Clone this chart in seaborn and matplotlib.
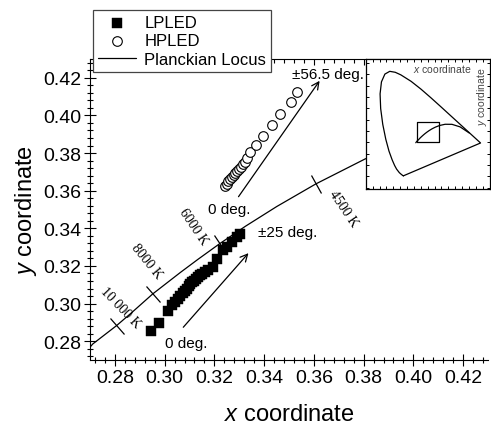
import numpy as np
import matplotlib.pyplot as plt
import seaborn as sns
from matplotlib.markers import MarkerStyle
from matplotlib.transforms import Affine2D
from matplotlib.ticker import MultipleLocator

# LPLED chromaticity points (filled squares)
lp_x = [0.2947, 0.2979, 0.3015, 0.3030, 0.3042, 0.3052, 0.3062, 0.3072, 0.3080, 0.3088,
        0.3096, 0.3104, 0.3111, 0.3118, 0.3126, 0.3134, 0.3143, 0.3152, 0.3162, 0.3173,
        0.3194, 0.3210, 0.3234, 0.3250, 0.3270, 0.3289, 0.3305]
lp_y = [0.2853, 0.2895, 0.2962, 0.2990, 0.3008, 0.3025, 0.3040, 0.3055, 0.3068, 0.3080,
        0.3092, 0.3102, 0.3112, 0.3120, 0.3130, 0.3140, 0.3150, 0.3158, 0.3166, 0.3176,
        0.3195, 0.3237, 0.3284, 0.3300, 0.3326, 0.3353, 0.3368]

# HPLED chromaticity points (open circles)
hp_x = [0.3242, 0.3249, 0.3256, 0.3263, 0.3270, 0.3277, 0.3284, 0.3291, 0.3298, 0.3306,
        0.3314, 0.3323, 0.3333, 0.3345, 0.3369, 0.3397, 0.3432, 0.3464, 0.3508, 0.3532]
hp_y = [0.3626, 0.3638, 0.3650, 0.3661, 0.3672, 0.3683, 0.3694, 0.3705, 0.3716, 0.3728,
        0.3740, 0.3755, 0.3774, 0.3808, 0.3842, 0.3889, 0.3947, 0.4005, 0.4074, 0.4126]

# Planckian locus (CIE 1931)
locus_T = [15000, 12000, 10000, 9000, 8000, 7000, 6500, 6000, 5500, 5000, 4500,
           4000, 3500, 3000, 2500, 2000, 1500, 1000]
locus_x = [0.2637, 0.2711, 0.2807, 0.2867, 0.2952, 0.3064, 0.3135, 0.3221, 0.3325,
           0.3451, 0.3608, 0.3805, 0.4053, 0.4369, 0.4770, 0.5267, 0.5857, 0.6528]
locus_y = [0.2671, 0.2785, 0.2883, 0.2951, 0.3051, 0.3166, 0.3236, 0.3318, 0.3411,
           0.3516, 0.3636, 0.3768, 0.3907, 0.4041, 0.4137, 0.4133, 0.3931, 0.3444]

iso_T = [10000, 8000, 6000, 4500]
iso_labels = ['10 000 K', '8000 K', '6000 K', '4500 K']
iso_label_x = [0.2822, 0.2929, 0.3114, 0.3719]
iso_label_y = [0.2979, 0.3229, 0.3410, 0.3505]
iso_label_rot = [-46, -51, -56, -56]

# spectral locus for the inset (CIE 1931)
spec_x = [0.1741, 0.1714, 0.1644, 0.1566, 0.1440, 0.1241, 0.1096, 0.0913, 0.0687, 0.0454,
          0.0235, 0.0082, 0.0039, 0.0139, 0.0389, 0.0743, 0.1142, 0.1547, 0.2296, 0.3016,
          0.3731, 0.4441, 0.5125, 0.5752, 0.6270, 0.6915, 0.7190, 0.7347, 0.1741]
spec_y = [0.0050, 0.0051, 0.0109, 0.0177, 0.0297, 0.0578, 0.0868, 0.1327, 0.2007, 0.2950,
          0.4127, 0.5384, 0.6548, 0.7502, 0.8120, 0.8338, 0.8262, 0.8059, 0.7543, 0.6923,
          0.6245, 0.5547, 0.4866, 0.4242, 0.3725, 0.3083, 0.2809, 0.2653, 0.0050]

# angle sweep annotations
arrow_tail = [(0.3075, 0.2874), (0.3297, 0.3568)]
arrow_head = [(0.3337, 0.3268), (0.3623, 0.4184)]
ann_text = ['0 deg.', '\u00b125 deg.', '0 deg.', '\u00b156.5 deg.']
ann_x = [0.3003, 0.3377, 0.3174, 0.3513]
ann_y = [0.2790, 0.3379, 0.3505, 0.4220]

sns.set_style('ticks')
plt.rcParams['font.family'] = ['Liberation Sans', 'DejaVu Sans']
plt.rcParams['mathtext.fontset'] = 'custom'
plt.rcParams['mathtext.it'] = 'Liberation Sans:italic'
plt.rcParams['mathtext.rm'] = 'Liberation Sans'
plt.rcParams['text.color'] = 'black'
plt.rcParams['axes.labelcolor'] = 'black'
plt.rcParams['xtick.color'] = 'black'
plt.rcParams['ytick.color'] = 'black'
plt.rcParams['axes.edgecolor'] = 'black'

fig = plt.figure(figsize=(4.91, 4.27), dpi=100)
ax = fig.add_axes([0.1833, 0.1546, 0.8106, 0.7049])
ax.set_xlim(0.27, 0.43)
ax.set_ylim(0.27, 0.43)

# Planckian locus
sns.lineplot(x=locus_x, y=locus_y, sort=False, estimator=None, color='black',
             lw=0.9, ax=ax, label='Planckian Locus')

# isotherm ticks perpendicular to the locus
for T, lab, lx, ly, rot in zip(iso_T, iso_labels, iso_label_x, iso_label_y, iso_label_rot):
    i = locus_T.index(T)
    p0 = ax.transData.transform((locus_x[i - 1], locus_y[i - 1]))
    p1 = ax.transData.transform((locus_x[i + 1], locus_y[i + 1]))
    ang = np.degrees(np.arctan2(p1[1] - p0[1], p1[0] - p0[0]))
    m = MarkerStyle('|', transform=Affine2D().rotate_deg(ang))
    ax.plot(locus_x[i], locus_y[i], marker=m, ms=15, mew=0.9, color='black')
    ax.text(lx, ly, lab, rotation=rot, ha='center', va='center', fontsize=10,
            family='Liberation Serif', rotation_mode='anchor')

sns.scatterplot(x=lp_x, y=lp_y, marker='s', s=44, color='black', edgecolor='black',
                linewidth=0.3, ax=ax, label='LPLED', zorder=3)
sns.scatterplot(x=hp_x, y=hp_y, marker='o', s=48, facecolor='white', edgecolor='black',
                linewidth=0.8, ax=ax, label='HPLED', zorder=3)

for t, h in zip(arrow_tail, arrow_head):
    ax.annotate('', xy=h, xytext=t,
                arrowprops=dict(arrowstyle='->', lw=0.9, color='black',
                                mutation_scale=13, shrinkA=0, shrinkB=0))
for t, x, y in zip(ann_text, ann_x, ann_y):
    ax.text(x, y, t, ha='left', va='center', fontsize=11)

# axes styling
for s in ['right', 'top']:
    ax.spines[s].set_visible(False)
for s in ['left', 'bottom']:
    ax.spines[s].set_linewidth(0.8)
ax.xaxis.set_major_locator(MultipleLocator(0.02))
ax.xaxis.set_minor_locator(MultipleLocator(0.004))
ax.yaxis.set_major_locator(MultipleLocator(0.02))
ax.yaxis.set_minor_locator(MultipleLocator(0.004))
ax.tick_params(which='major', direction='inout', length=9, width=0.8, labelsize=14, pad=2)
ax.tick_params(which='minor', direction='inout', length=5, width=0.8)
ax.set_xticks([0.28, 0.30, 0.32, 0.34, 0.36, 0.38, 0.40, 0.42])
ax.set_xticklabels(['0.28', '0.30', '0.32', '0.34', '0.36', '0.38', '0.40', '0.42'])
ax.set_yticks([0.28, 0.30, 0.32, 0.34, 0.36, 0.38, 0.40, 0.42])
ax.set_yticklabels(['0.28', '0.30', '0.32', '0.34', '0.36', '0.38', '0.40', '0.42'])
ax.set_xlabel(r'$\mathit{x}$ coordinate', fontsize=17, labelpad=12)
ax.set_ylabel(r'$\mathit{y}$ coordinate', fontsize=17, labelpad=3)

top = ax.secondary_xaxis('top')
top.xaxis.set_major_locator(MultipleLocator(0.02))
top.xaxis.set_minor_locator(MultipleLocator(0.004))
top.tick_params(which='major', direction='in', length=4, width=0.8, labeltop=False)
top.tick_params(which='minor', direction='in', length=3, width=0.8)
top.spines['top'].set_linewidth(0.8)

h, l = ax.get_legend_handles_labels()
order = [l.index('LPLED'), l.index('HPLED'), l.index('Planckian Locus')]
leg = ax.legend([h[i] for i in order], [l[i] for i in order], loc='upper left',
                bbox_to_anchor=(0.189, 0.974), bbox_transform=fig.transFigure,
                borderaxespad=0, fontsize=12, frameon=True, fancybox=False,
                framealpha=1, edgecolor='#444444', labelspacing=0.2,
                handlelength=2.3, handletextpad=0.5, borderpad=0.3)
leg.get_frame().set_linewidth(0.9)

# inset: whole CIE diagram with the zoomed region marked
ins = fig.add_axes([0.745, 0.555, 0.252, 0.304])
ins.set_facecolor('white')
sns.lineplot(x=spec_x, y=spec_y, sort=False, estimator=None, color='black', lw=0.9, ax=ins)
sns.lineplot(x=locus_x, y=locus_y, sort=False, estimator=None, color='black', lw=0.9, ax=ins)
x0, x1 = ax.get_xlim()
y0, y1 = ax.get_ylim()
ins.plot([x0, x1, x1, x0, x0], [y0, y0, y1, y1, y0], color='black', lw=0.9)
ins.set_xlim(-0.1, 0.8)
ins.set_ylim(-0.1, 0.93)
ins.xaxis.set_major_locator(MultipleLocator(0.05))
ins.yaxis.set_major_locator(MultipleLocator(0.09))
ins.tick_params(direction='in', length=2.5, width=0.7, top=True, right=True,
                labelbottom=False, labelleft=False)
for s in ins.spines.values():
    s.set_linewidth(0.9)
    s.set_color('black')
ins.text(0.62, 0.93, r'$\mathit{x}$ coordinate', transform=ins.transAxes,
         ha='center', va='center', fontsize=7.5, color='#444444')
ins.text(0.94, 0.72, r'$\mathit{y}$ coordinate', transform=ins.transAxes,
         ha='center', va='center', fontsize=7.5, color='#444444', rotation=90)

fig.savefig('out.png', dpi=100)
